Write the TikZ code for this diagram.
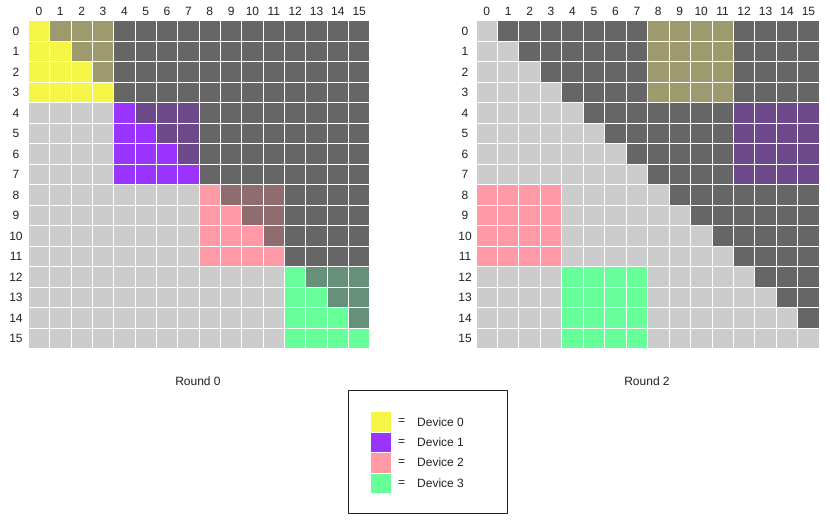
\documentclass[tikz,border=0pt]{standalone}
\usepackage{fontspec}
\setmainfont{Liberation Sans}
\definecolor{d0}{HTML}{F5F545}
\definecolor{d1}{HTML}{9B33FF}
\definecolor{d2}{HTML}{FF99A6}
\definecolor{d3}{HTML}{66FF99}
\definecolor{m0}{HTML}{9D9B6E}
\definecolor{m1}{HTML}{6E4A8D}
\definecolor{m2}{HTML}{8F6C70}
\definecolor{m3}{HTML}{67907A}
\definecolor{dk}{HTML}{666666}
\definecolor{lt}{HTML}{CCCCCC}
\definecolor{txt}{HTML}{222222}
\begin{document}
\begin{tikzpicture}[x=1pt,y=-1pt,
  cell/.style={draw=white,line width=0.9pt},
  lbl/.style={font=\fontsize{12}{14}\selectfont,text=txt,inner sep=0pt}]
\useasboundingbox[fill=white] (0,0) rectangle (830,523);
% ---------- Round 0 grid ----------
\def\XA{28.3}\def\WA{21.35}\def\YA{20.7}\def\H{20.5}
\foreach \r in {0,...,15}{
  \foreach \c in {0,...,15}{
    \pgfmathtruncatemacro\dr{int(\r/4)}
    \pgfmathtruncatemacro\dc{int(\c/4)}
    \ifnum\dr=\dc
      \ifnum\c>\r \def\fc{m\dr}\else\def\fc{d\dr}\fi
    \else
      \ifnum\c>\r \def\fc{dk}\else\def\fc{lt}\fi
    \fi
    \path[cell,fill=\fc] ({\XA+\c*\WA},{\YA+\r*\H}) rectangle ++(\WA,\H);
  }
}
\foreach \i in {0,...,15}{
  \node[lbl] (ac\i) at ({\XA+(\i+0.5)*\WA},11) {\i};
  \node[lbl] (ar\i) at (16,{\YA+(\i+0.5)*\H}) {\i};
}
% ---------- Round 2 grid ----------
\def\XB{476}\def\WB{21.45}
\foreach \r in {0,...,15}{
  \foreach \c in {0,...,15}{
    \pgfmathtruncatemacro\dr{int(\r/4)}
    \pgfmathtruncatemacro\dc{int(\c/4)}
    \pgfmathtruncatemacro\tb{mod(\dr+2,4)}
    \ifnum\tb=\dc
      \ifnum\c>\r \def\fc{m\dr}\else\def\fc{d\dr}\fi
    \else
      \ifnum\c>\r \def\fc{dk}\else\def\fc{lt}\fi
    \fi
    \path[cell,fill=\fc] ({\XB+\c*\WB},{\YA+\r*\H}) rectangle ++(\WB,\H);
  }
}
\foreach \i in {0,...,15}{
  \node[lbl] (bc\i) at ({\XB+(\i+0.5)*\WB},11) {\i};
  \node[lbl] (br\i) at (465,{\YA+(\i+0.5)*\H}) {\i};
}
% ---------- captions ----------
\node[lbl] (cap0) at (198,381) {Round 0};
\node[lbl] (cap2) at (647,381) {Round 2};
% ---------- legend ----------
\draw[line width=0.8pt,draw=txt] (348.3,390) rectangle (507.7,513.3);
\foreach \d in {0,...,3}{
  \path[draw=white,line width=0.6pt,fill=d\d] (370.7,{411.7+\d*20.4}) rectangle ++(21,20.4);
  \node[lbl] (eq\d) at (401.7,{421.9+\d*20.4}) {=};
  \node[lbl,anchor=west] (dev\d) at (417,{421.9+\d*20.4}) {Device \d};
}
\end{tikzpicture}
\end{document}
